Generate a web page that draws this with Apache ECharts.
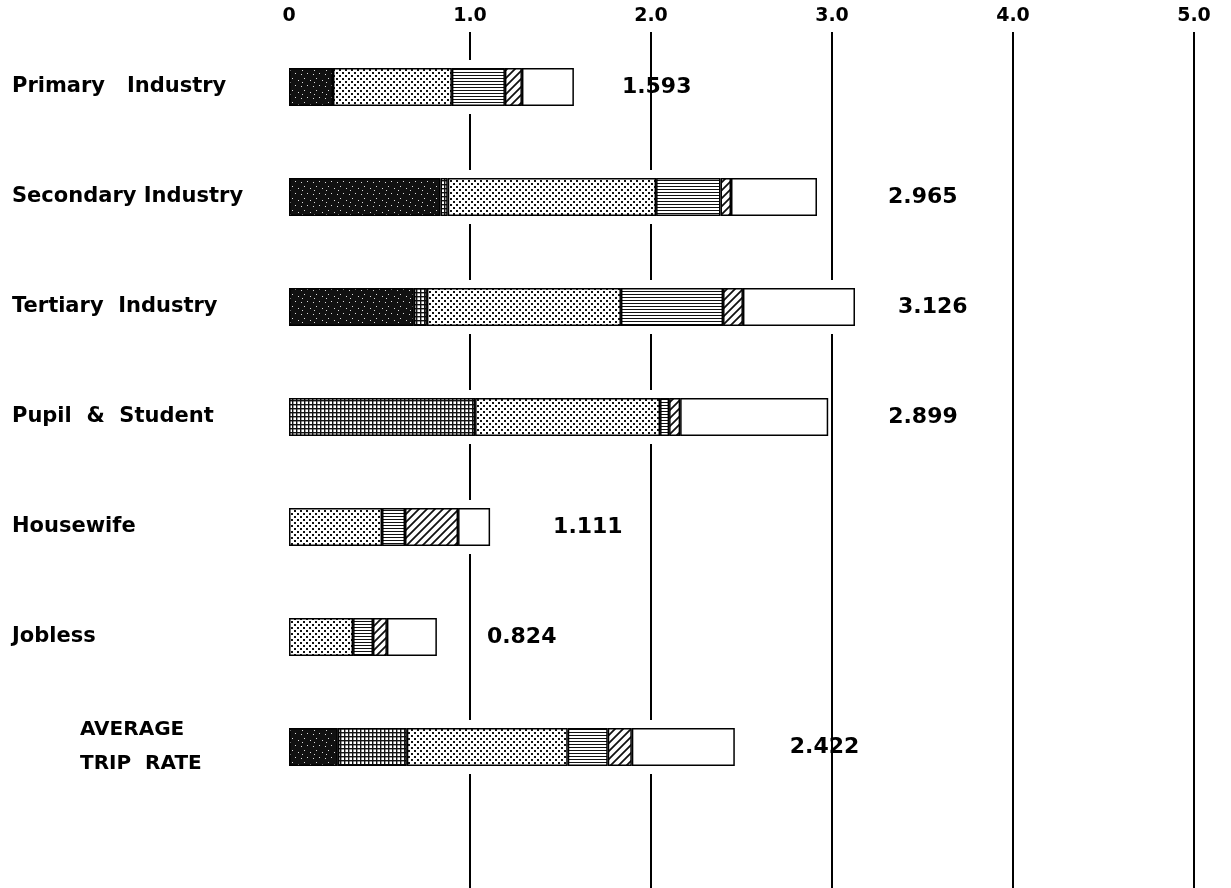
<!DOCTYPE html>
<html>
<head>
<meta charset="utf-8">
<title>Trip rate by occupation</title>
<script src="https://cdn.jsdelivr.net/npm/echarts@6/dist/echarts.min.js"></script>
<style>
  html, body { margin: 0; padding: 0; background: #fff; }
  #chart { width: 1231px; height: 888px; }
</style>
</head>
<body>
<div id="chart"></div>
<script>
// categories (top to bottom)
const categories = [
  'Primary   Industry',
  'Secondary Industry',
  'Tertiary  Industry',
  'Pupil  &  Student',
  'Housewife',
  'Jobless',
  'AVERAGE TRIP RATE'
];

// trip rate by purpose
const toWork     = [0.243, 0.837, 0.690, 0,     0,     0,     0.270];
const toSchool   = [0,     0.040, 0.072, 1.028, 0,     0,     0.381];
const toHome     = [0.657, 1.151, 1.072, 1.022, 0.514, 0.354, 0.889];
const business   = [0.293, 0.356, 0.564, 0.050, 0.127, 0.110, 0.221];
const privateUse = [0.094, 0.058, 0.110, 0.061, 0.293, 0.077, 0.133];
const others     = [0.287, 0.475, 0.619, 0.818, 0.177, 0.276, 0.569];

// printed totals
const totalLabels = ['1.593', '2.965', '3.126', '2.899', '1.111', '0.824', '2.422'];

// axis tick labels
const xTickLabels = ['0', '1.0', '2.0', '3.0', '4.0', '5.0'];

// label gap from bar end (px), as drawn
const labelGap = [48, 71, 43, 60, 63, 50, 55];

// --- hatch patterns ---
function makePattern(w, h, draw) {
  const c = document.createElement('canvas');
  c.width = w; c.height = h;
  const ctx = c.getContext('2d');
  ctx.fillStyle = '#fff';
  ctx.fillRect(0, 0, w, h);
  draw(ctx);
  return { image: c, repeat: 'repeat' };
}

const darkFill = makePattern(12, 12, (ctx) => {
  ctx.fillStyle = '#111';
  ctx.fillRect(0, 0, 12, 12);
  ctx.fillStyle = '#ddd';
  [[1, 2], [7, 1], [4, 6], [10, 8], [2, 10]].forEach(([x, y]) => ctx.fillRect(x, y, 1, 1));
});

const gridFill = makePattern(4, 4, (ctx) => {
  ctx.fillStyle = '#111';
  ctx.fillRect(0, 0, 4, 1.4);
  ctx.fillRect(0, 0, 1.4, 4);
});

const dotFill = makePattern(6, 6, (ctx) => {
  ctx.fillStyle = '#111';
  ctx.fillRect(0, 0, 2, 2);
  ctx.fillRect(3, 3, 2, 2);
});

const lineFill = makePattern(3, 3, (ctx) => {
  ctx.fillStyle = '#111';
  ctx.fillRect(0, 0, 3, 1);
});

const hatchFill = makePattern(8, 8, (ctx) => {
  ctx.strokeStyle = '#111';
  ctx.lineWidth = 1.8;
  ctx.beginPath();
  ctx.moveTo(-4, 4); ctx.lineTo(4, -4);
  ctx.moveTo(0, 8); ctx.lineTo(8, 0);
  ctx.moveTo(4, 12); ctx.lineTo(12, 4);
  ctx.stroke();
});

const FONT = '"DejaVu Sans", sans-serif';

const chart = echarts.init(document.getElementById('chart'));

const totals = categories.map((_, i) =>
  toWork[i] + toSchool[i] + toHome[i] + business[i] + privateUse[i] + others[i]);

const segment = (name, values, fill) => ({
  name,
  type: 'bar',
  stack: 'trip',
  barWidth: 38,
  data: values.map((v) => (v ? v : '-')),
  itemStyle: { color: fill, borderColor: '#000', borderWidth: 1.5 },
  emphasis: { disabled: true },
  z: 3
});

const option = {
  animation: false,
  backgroundColor: '#fff',
  grid: { left: 289, right: 37, top: 32, height: 880, outerBoundsMode: 'none' },
  xAxis: {
    type: 'value',
    position: 'top',
    min: 0,
    max: 5,
    interval: 1,
    axisLine: { show: false },
    axisTick: { show: false },
    axisLabel: {
      margin: 6,
      color: '#000',
      fontFamily: FONT,
      fontWeight: 'bold',
      fontSize: 19,
      formatter: (v) => xTickLabels[Math.round(v)]
    },
    splitLine: {
      show: true,
      showMinLine: false,
      lineStyle: { color: '#000', width: 2 }
    }
  },
  yAxis: {
    type: 'category',
    inverse: true,
    data: categories.concat(['']),
    axisLine: { show: false },
    axisTick: { show: false },
    axisLabel: {
      margin: 277,
      align: 'left',
      color: '#000',
      fontFamily: FONT,
      fontWeight: 'bold',
      fontSize: 21,
      formatter: (v) => {
        if (v === 'AVERAGE TRIP RATE') return '{avg|AVERAGE}\n{avg|TRIP  RATE}';
        return v;
      },
      rich: {
        avg: {
          fontFamily: FONT,
          fontWeight: 'bold',
          fontSize: 20,
          color: '#000',
          lineHeight: 34,
          padding: [0, 0, 0, 68]
        }
      }
    }
  },
  series: [
    {
      // white gap cut into the grid lines around each bar
      name: 'gap',
      type: 'custom',
      silent: true,
      z: 2,
      data: totals.map((t, i) => [t, i]),
      encode: { x: 0, y: 1 },
      renderItem: (params, api) => {
        const a = api.coord([0, api.value(1)]);
        const b = api.coord([api.value(0), api.value(1)]);
        const h = 54;
        return {
          type: 'rect',
          shape: { x: a[0] - 2, y: a[1] - h / 2, width: b[0] - a[0] + 3, height: h },
          style: { fill: '#fff' }
        };
      }
    },
    segment('To work', toWork, darkFill),
    segment('To school', toSchool, gridFill),
    segment('To home', toHome, dotFill),
    segment('Business', business, lineFill),
    segment('Private', privateUse, hatchFill),
    Object.assign(segment('Others', others, '#fff'), {
      data: others.map((v, i) => ({ value: v, label: { distance: labelGap[i] } })),
      label: {
        show: true,
        position: 'right',
        color: '#000',
        fontFamily: FONT,
        fontWeight: 'bold',
        fontSize: 22,
        formatter: (p) => totalLabels[p.dataIndex]
      }
    })
  ]
};

chart.setOption(option);
</script>
</body>
</html>
